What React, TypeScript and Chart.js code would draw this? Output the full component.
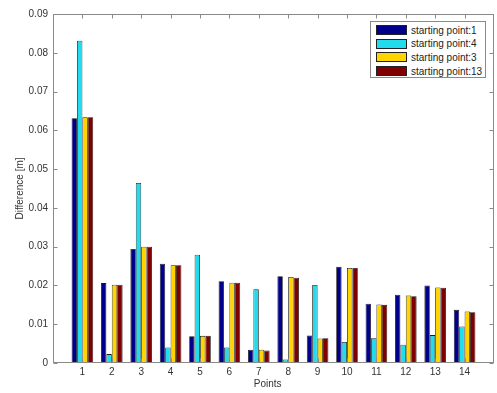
import React, { useEffect, useRef } from 'react';
import { Chart, registerables } from 'chart.js';

Chart.register(...registerables);

const points = [1, 2, 3, 4, 5, 6, 7, 8, 9, 10, 11, 12, 13, 14];
const seriesNames = ['starting point:1', 'starting point:4', 'starting point:3', 'starting point:13'];
const startPoint1 = [0.0631, 0.0206, 0.0294, 0.0256, 0.0069, 0.0211, 0.0034, 0.0224, 0.0071, 0.0248, 0.0153, 0.0176, 0.0200, 0.0137];
const startPoint4 = [0.0831, 0.0023, 0.0464, 0.0040, 0.0279, 0.0040, 0.0190, 0.0009, 0.0201, 0.0054, 0.0064, 0.0047, 0.0072, 0.0094];
const startPoint3 = [0.0634, 0.0202, 0.0300, 0.0252, 0.0070, 0.0207, 0.0034, 0.0222, 0.0063, 0.0245, 0.0151, 0.0174, 0.0195, 0.0133];
const startPoint13 = [0.0634, 0.0202, 0.0300, 0.0252, 0.0070, 0.0207, 0.0032, 0.0220, 0.0064, 0.0245, 0.0150, 0.0172, 0.0194, 0.0131];
const seriesValues = [startPoint1, startPoint4, startPoint3, startPoint13];
const seriesColors = ['#00008C', '#22DCEE', '#FFD400', '#7F0000'];
const yTicks = [0, 0.01, 0.02, 0.03, 0.04, 0.05, 0.06, 0.07, 0.08, 0.09];
const xTitle = 'Points';
const yTitle = 'Difference [m]';

const FONT = "'Liberation Sans', Arial, Helvetica, sans-serif";

const boxPlugin = {
  id: 'matlabBox',
  afterDraw(chart: any) {
    const { ctx, chartArea: a } = chart;
    const x = chart.scales.x;
    const y = chart.scales.y;
    const tl = 4;
    ctx.save();
    ctx.strokeStyle = '#8a8a8a';
    ctx.lineWidth = 1;
    const L = Math.round(a.left) + 0.5;
    const R = Math.round(a.right) - 0.5;
    const T = Math.round(a.top) + 0.5;
    const B = Math.round(a.bottom) - 0.5;
    ctx.strokeRect(L, T, R - L, B - T);
    ctx.beginPath();
    points.forEach((p) => {
      const px = Math.round(x.getPixelForValue(p)) + 0.5;
      ctx.moveTo(px, B);
      ctx.lineTo(px, B - tl);
      ctx.moveTo(px, T);
      ctx.lineTo(px, T + tl);
    });
    yTicks.forEach((v) => {
      const py = Math.round(y.getPixelForValue(v)) + 0.5;
      ctx.moveTo(L, py);
      ctx.lineTo(L + tl, py);
      ctx.moveTo(R, py);
      ctx.lineTo(R - tl, py);
    });
    ctx.stroke();
    // x-axis title (MATLAB places it slightly left of the axes centre here)
    ctx.fillStyle = '#333';
    ctx.font = `10px ${FONT}`;
    ctx.textAlign = 'center';
    ctx.textBaseline = 'middle';
    ctx.fillText(xTitle, x.getPixelForValue(7.3), 384.5);
    ctx.restore();
  },
};

export default function App() {
  const canvasRef = useRef<HTMLCanvasElement | null>(null);

  useEffect(() => {
    const canvas = canvasRef.current;
    if (!canvas) return;
    Chart.defaults.font.family = FONT;
    const chart = new Chart(canvas, {
      type: 'bar',
      data: {
        datasets: seriesValues.map((vals, i) => ({
          label: seriesNames[i],
          data: vals.map((v, j) => ({ x: points[j], y: v })),
          backgroundColor: seriesColors[i],
          borderColor: '#1a1a1a',
          borderWidth: 0.8,
          categoryPercentage: 0.735,
          barPercentage: 1,
        })),
      },
      options: {
        responsive: false,
        animation: false,
        events: [],
        layout: { padding: { top: 14, right: 2.5, left: 0, bottom: 0 } },
        plugins: {
          legend: { display: false },
          tooltip: { enabled: false },
        },
        scales: {
          x: {
            type: 'linear',
            min: 0,
            max: 15,
            offset: false,
            grid: { display: false, drawTicks: false, offset: false },
            border: { display: false },
            ticks: {
              stepSize: 1,
              autoSkip: false,
              maxRotation: 0,
              padding: 3,
              color: '#333',
              font: { size: 10, family: FONT },
              callback: (v: any) => (v >= 1 && v <= 14 ? String(v) : ''),
            },
            title: { display: false },
            afterFit: (s: any) => {
              s.height = 30;
            },
          },
          y: {
            type: 'linear',
            min: 0,
            max: 0.09,
            grid: { display: false, drawTicks: false },
            border: { display: false },
            ticks: {
              stepSize: 0.01,
              padding: 5,
              color: '#333',
              font: { size: 10, family: FONT },
              callback: (v: any) => (Math.abs(v) < 1e-9 ? '0' : Number(v).toFixed(2)),
            },
            title: {
              display: true,
              text: yTitle,
              color: '#333',
              font: { size: 10, family: FONT },
              padding: { top: 14.7, bottom: 0 },
            },
            afterFit: (s: any) => {
              s.width = 53;
            },
          },
        },
      },
      plugins: [boxPlugin],
    });
    return () => chart.destroy();
  }, []);

  return (
    <div style={{ position: 'fixed', left: 0, top: 0, width: 497, height: 393, background: '#fff' }}>
      <canvas ref={canvasRef} width={497} height={393} style={{ display: 'block' }} />
      <div
        style={{
          position: 'absolute',
          left: 370,
          top: 21,
          width: 116,
          height: 57,
          boxSizing: 'border-box',
          border: '1px solid #8a8a8a',
          background: '#fff',
          fontFamily: FONT,
          fontSize: 10,
          color: '#222',
        }}
      >
        {seriesNames.map((name, i) => (
          <div
            key={name}
            style={{ position: 'absolute', left: 5, top: 2 + i * 13.7, height: 12, display: 'flex', alignItems: 'center', whiteSpace: 'nowrap' }}
          >
            <span
              style={{
                display: 'inline-block',
                width: 31,
                height: 10,
                boxSizing: 'border-box',
                background: seriesColors[i],
                border: '1px solid #222',
                marginRight: 4,
              }}
            />
            <span>{name}</span>
          </div>
        ))}
      </div>
    </div>
  );
}
